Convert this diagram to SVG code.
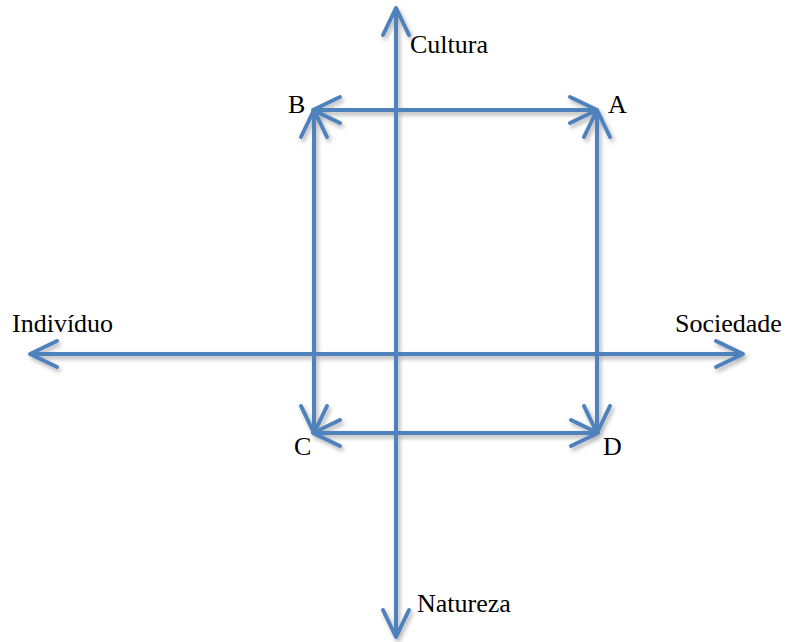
<svg xmlns="http://www.w3.org/2000/svg" width="788" height="642" viewBox="0 0 788 642">
<style>
.ln{stroke:#4f81bd;stroke-width:4;fill:none;marker-start:url(#ah);marker-end:url(#ah)}
.lb{font-family:"Liberation Serif","Times New Roman",serif;font-size:26px;fill:#000}
</style>
<defs>
<filter id="sh" x="-10%" y="-10%" width="120%" height="120%">
<feDropShadow dx="2" dy="3" stdDeviation="2" flood-color="#000" flood-opacity="0.3"/>
</filter>
<marker id="ah" markerUnits="userSpaceOnUse" viewBox="-32 -18 36 36" refX="0" refY="0" markerWidth="36" markerHeight="36" orient="auto-start-reverse">
<path d="M-27,-13 L0,0 L-27,13" fill="none" stroke="#4f81bd" stroke-width="4" stroke-linecap="round" stroke-linejoin="round"/>
</marker>
</defs>
<rect width="788" height="642" fill="#fff"/>
<g id="connectors" filter="url(#sh)">
<line class="ln" x1="396" y1="637" x2="396" y2="8"/>
<line class="ln" x1="743" y1="354" x2="30" y2="354"/>
<line class="ln" x1="597" y1="110" x2="313" y2="110"/>
<line class="ln" x1="313" y1="433" x2="598" y2="433"/>
<line class="ln" x1="314" y1="433" x2="314" y2="110"/>
<line class="ln" x1="597" y1="110" x2="597" y2="433"/>
</g>
<g id="cultura"><text class="lb" x="410" y="53">Cultura</text></g>
<g id="natureza"><text class="lb" x="417" y="612">Natureza</text></g>
<g id="individuo"><text class="lb" x="12" y="332">Indivíduo</text></g>
<g id="sociedade"><text class="lb" x="675" y="332">Sociedade</text></g>
<g id="nodeA"><text class="lb" x="608" y="113">A</text></g>
<g id="nodeB"><text class="lb" x="288" y="113">B</text></g>
<g id="nodeC"><text class="lb" x="294" y="455">C</text></g>
<g id="nodeD"><text class="lb" x="603" y="455">D</text></g>
</svg>
